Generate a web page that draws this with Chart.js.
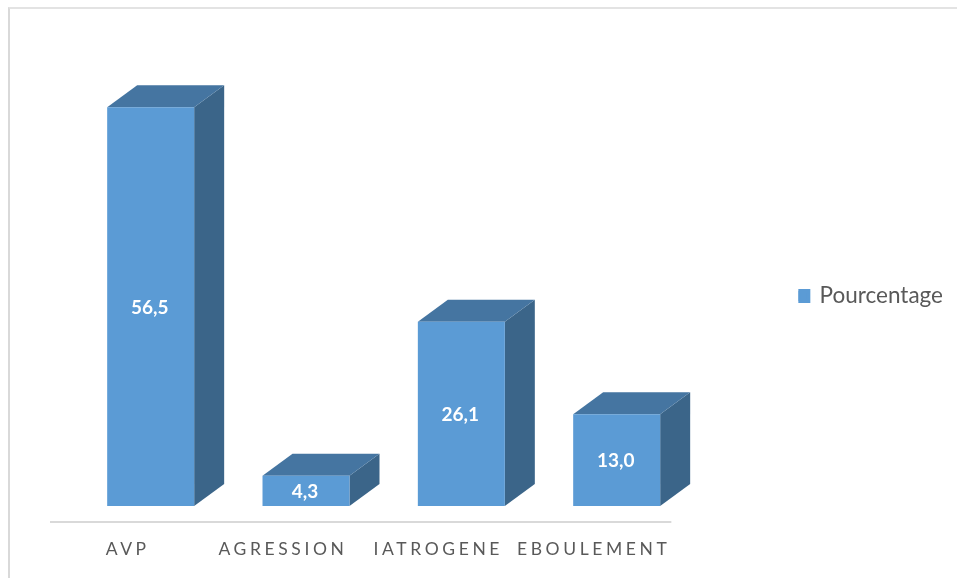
<!DOCTYPE html>
<html>
<head>
<meta charset="utf-8">
<style>
  html, body { margin: 0; background: #fff; overflow: hidden; }
  #frame { position: absolute; left: 8px; top: 7px; right: 0; bottom: 0; border-left: 2px solid #d9d9d9; border-top: 2px solid #e3e3e3; }
  canvas { position: absolute; left: 0; top: 0; }
</style>
</head>
<body>
<div id="frame"></div>
<canvas id="chart" width="957" height="578"></canvas>
<script src="https://cdn.jsdelivr.net/npm/chart.js@4"></script>
<script>
'use strict';

var categories = ['AVP', 'AGRESSION', 'IATROGENE', 'EBOULEMENT'];
var pourcentage = [56.5, 4.3, 26.1, 13.0];
var seriesName = 'Pourcentage';

var DEPTH_X = 30, DEPTH_Y = 22;

var face = function(ctx, color, pts){
  ctx.fillStyle = color;
  ctx.beginPath();
  pts.forEach(function(p, i){ i ? ctx.lineTo(p[0], p[1]) : ctx.moveTo(p[0], p[1]); });
  ctx.closePath();
  ctx.fill();
};

// the 3D look: side + top of each bar, floor line, value in the middle
var box3d = {
  id: 'box3d',
  afterLayout: function(chart){
    var x = chart.scales.x;
    if (x._spaced) return;
    var draw = x.drawLabels;
    x.drawLabels = function(area){
      chart.ctx.letterSpacing = '3.6px';
      draw.call(x, area);
      chart.ctx.letterSpacing = '0px';
    };
    x._spaced = true;
  },
  beforeDatasetsDraw: function(chart){
    var ctx = chart.ctx, area = chart.chartArea;
    ctx.save();
    ctx.strokeStyle = '#d9d9d9';
    ctx.lineWidth = 2;
    ctx.beginPath();
    ctx.moveTo(area.left - 23, area.bottom + 16);
    ctx.lineTo(area.right - 23, area.bottom + 16);
    ctx.stroke();
    chart.getDatasetMeta(0).data.forEach(function(bar){
      var l = bar.x - bar.width / 2, r = bar.x + bar.width / 2;
      face(ctx, '#3b6589', [[r, bar.y], [r + DEPTH_X, bar.y - DEPTH_Y], [r + DEPTH_X, bar.base - DEPTH_Y], [r, bar.base]]);
      face(ctx, '#4575a1', [[l, bar.y], [l + DEPTH_X, bar.y - DEPTH_Y], [r + DEPTH_X, bar.y - DEPTH_Y], [r, bar.y]]);
    });
    ctx.restore();
  },
  afterDatasetsDraw: function(chart){
    var ctx = chart.ctx;
    ctx.save();
    ctx.fillStyle = '#fff';
    ctx.font = 'bold 19px Lato';
    ctx.textAlign = 'center';
    ctx.textBaseline = 'middle';
    chart.getDatasetMeta(0).data.forEach(function(bar, i){
      ctx.fillText(pourcentage[i].toFixed(1).replace('.', ','), bar.x - 1, (bar.y + bar.base) / 2 + 1);
    });
    ctx.restore();
  }
};

new Chart(document.querySelector('#chart'), {
  type: 'bar',
  data: {
    labels: categories,
    datasets: [{ label: seriesName, data: pourcentage, backgroundColor: '#5b9bd5', categoryPercentage: 1, barPercentage: 0.56 }]
  },
  options: {
    responsive: false,
    animation: false,
    layout: { padding: { left: 73, right: 4, top: 14, bottom: 0 } },
    plugins: {
      tooltip: { enabled: false },
      legend: {
        position: 'right',
        labels: {
          boxWidth: 10, boxHeight: 10, padding: 0, color: '#595959', font: { family: 'Lato', size: 22.5 },
          // thick outline keeps the swatch at 14px but the text close to it
          generateLabels: function(chart){
            return Chart.defaults.plugins.legend.labels.generateLabels(chart).map(function(item){
              item.lineWidth = 4;
              item.strokeStyle = item.fillStyle;
              return item;
            });
          }
        }
      }
    },
    scales: {
      x: {
        grid: { display: false, drawTicks: false },
        border: { display: false },
        afterFit: function(s){ s.height = 72; },
        ticks: { autoSkip: false, maxRotation: 0, padding: 33, labelOffset: -23, color: '#595959', font: { family: 'Lato', size: 17.5 } }
      },
      y: { display: false, min: 0, max: 69.7 },
      // empty room between the bars and the legend
      gap: {
        position: 'right',
        grid: { display: false },
        border: { display: false },
        ticks: { display: false },
        afterFit: function(s){ s.width = 104; }
      }
    }
  },
  plugins: [box3d]
});
</script>
</body>
</html>
